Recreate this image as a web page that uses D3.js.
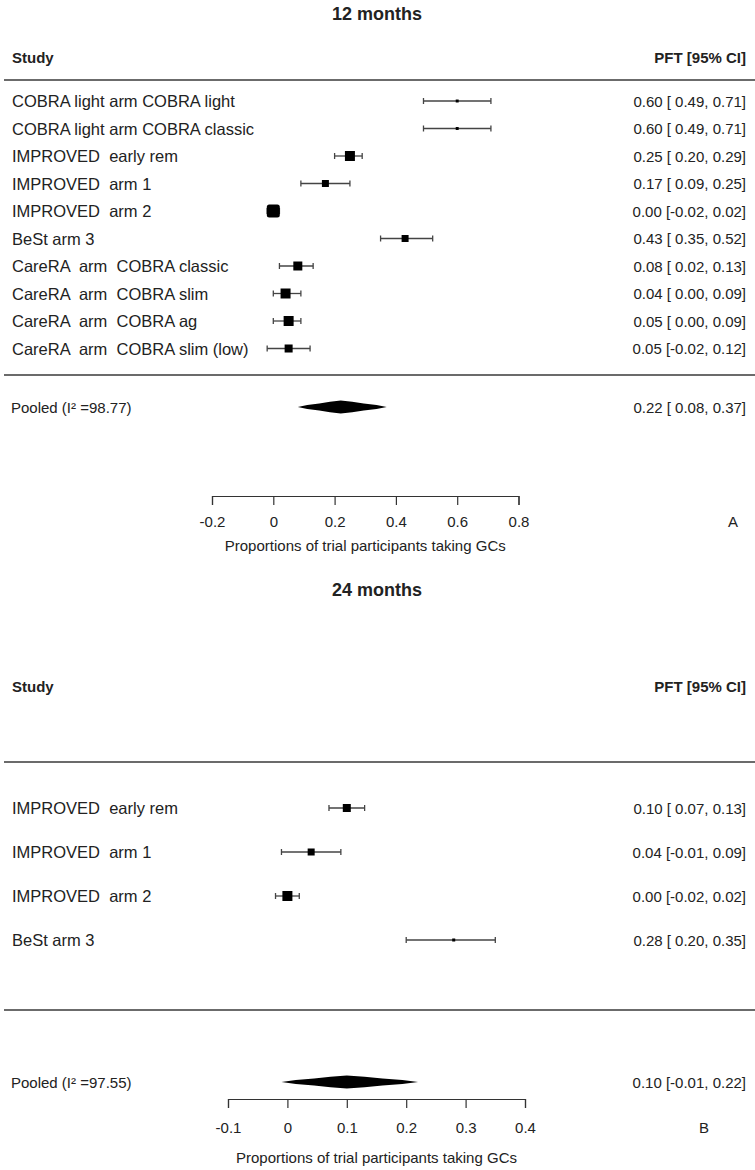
<!DOCTYPE html>
<html>
<head>
<meta charset="utf-8">
<script src="https://cdn.jsdelivr.net/npm/d3@7"></script>
<style>
body { margin: 0; background: #fff; }
svg text { font-family: "Liberation Sans", Arial, sans-serif; fill: #222; }
</style>
</head>
<body>
<div id="chart"></div>
<script>
var width = 755, height = 1170;

// 12 months
var studiesA = ["COBRA light arm COBRA light", "COBRA light arm COBRA classic", "IMPROVED  early rem",
    "IMPROVED  arm 1", "IMPROVED  arm 2", "BeSt arm 3", "CareRA  arm  COBRA classic",
    "CareRA  arm  COBRA slim", "CareRA  arm  COBRA ag", "CareRA  arm  COBRA slim (low)"];
var estA = [0.60, 0.60, 0.25, 0.17, 0.00, 0.43, 0.08, 0.04, 0.05, 0.05];
var lowA = [0.49, 0.49, 0.20, 0.09, -0.02, 0.35, 0.02, 0.00, 0.00, -0.02];
var highA = [0.71, 0.71, 0.29, 0.25, 0.02, 0.52, 0.13, 0.09, 0.09, 0.12];
var weightA = [1.2, 1.2, 13.7, 6.7, 23.2, 6.7, 11.1, 13.7, 13.7, 8.8];
var pooledA = [0.22, 0.08, 0.37];
var i2A = "98.77";
var ticksA = [-0.2, 0, 0.2, 0.4, 0.6, 0.8];

// 24 months
var studiesB = ["IMPROVED  early rem", "IMPROVED  arm 1", "IMPROVED  arm 2", "BeSt arm 3"];
var estB = [0.10, 0.04, 0.00, 0.28];
var lowB = [0.07, -0.01, -0.02, 0.20];
var highB = [0.13, 0.09, 0.02, 0.35];
var weightB = [28.8, 22.1, 45.0, 4.1];
var pooledB = [0.10, -0.01, 0.22];
var i2B = "97.55";
var ticksB = [-0.1, 0, 0.1, 0.2, 0.3, 0.4];

var xLabel = "Proportions of trial participants taking GCs";

var svg = d3.select("#chart").append("svg")
    .attr("width", width)
    .attr("height", height);

// plain hyphen for negatives, like the R output
function f2(v) { return d3.format(".2f")(v).replace("\u2212", "-"); }
function ciText(e, l, h) {
    return f2(e) + " [" + (l < 0 ? "" : " ") + f2(l) + ", " + f2(h) + "]";
}

function drawPanel(p) {
    var g = svg.append("g");
    var x = d3.scaleLinear().domain([p.ticks[0], p.ticks[p.ticks.length - 1]]).range(p.xRange);
    var box = d3.scaleSqrt().domain([0, d3.max(p.weight)]).range([0, p.maxBox]);
    var y = function(i) { return p.row0 + i * p.step; };

    g.append("text")
        .attr("x", 377).attr("y", p.titleY)
        .attr("text-anchor", "middle").attr("dominant-baseline", "central")
        .style("font-size", "18px").style("font-weight", "bold")
        .text(p.title);

    g.append("text")
        .attr("x", 12).attr("y", p.headerY)
        .attr("dominant-baseline", "central")
        .style("font-size", "15px").style("font-weight", "bold")
        .text("Study");
    g.append("text")
        .attr("x", 746).attr("y", p.headerY)
        .attr("text-anchor", "end").attr("dominant-baseline", "central")
        .style("font-size", "15px").style("font-weight", "bold")
        .text("PFT [95% CI]");

    [p.line1, p.line2].forEach(function(ly) {
        g.append("line")
            .attr("x1", 4).attr("x2", width)
            .attr("y1", ly).attr("y2", ly)
            .attr("stroke", "#6b6b6b").attr("stroke-width", 2);
    });

    var rows = g.selectAll("g.row").data(p.studies).enter().append("g").attr("class", "row");

    rows.append("text")
        .attr("x", 12).attr("y", function(d, i) { return y(i); })
        .attr("dominant-baseline", "central")
        .style("font-size", "16.5px").style("white-space", "pre")
        .text(function(d) { return d; });

    rows.append("line")
        .attr("x1", function(d, i) { return x(p.low[i]); })
        .attr("x2", function(d, i) { return x(p.high[i]); })
        .attr("y1", function(d, i) { return y(i); })
        .attr("y2", function(d, i) { return y(i); })
        .attr("stroke", "#444").attr("stroke-width", 1.3);
    ["low", "high"].forEach(function(k) {
        rows.append("line")
            .attr("x1", function(d, i) { return x(p[k][i]); })
            .attr("x2", function(d, i) { return x(p[k][i]); })
            .attr("y1", function(d, i) { return y(i) - 3; })
            .attr("y2", function(d, i) { return y(i) + 3; })
            .attr("stroke", "#444").attr("stroke-width", 1.3);
    });

    rows.append("rect")
        .attr("x", function(d, i) { return x(p.est[i]) - box(p.weight[i]) / 2; })
        .attr("y", function(d, i) { return y(i) - box(p.weight[i]) / 2; })
        .attr("width", function(d, i) { return box(p.weight[i]); })
        .attr("height", function(d, i) { return box(p.weight[i]); })
        .attr("rx", function(d, i) { return box(p.weight[i]) > 11 ? 2.5 : 0; })
        .attr("fill", "#000");

    rows.append("text")
        .attr("x", 746).attr("y", function(d, i) { return y(i); })
        .attr("text-anchor", "end").attr("dominant-baseline", "central")
        .style("font-size", "15px").style("white-space", "pre")
        .text(function(d, i) { return ciText(p.est[i], p.low[i], p.high[i]); });

    // pooled estimate
    g.append("text")
        .attr("x", 11).attr("y", p.pooledY)
        .attr("dominant-baseline", "central")
        .style("font-size", "15px")
        .text("Pooled (I\u00b2 =" + p.i2 + ")");
    g.append("text")
        .attr("x", 746).attr("y", p.pooledY)
        .attr("text-anchor", "end").attr("dominant-baseline", "central")
        .style("font-size", "15px").style("white-space", "pre")
        .text(ciText(p.pooled[0], p.pooled[1], p.pooled[2]));

    // spindle-shaped summary diamond
    var xl = x(p.pooled[1]), xm = x(p.pooled[0]), xh = x(p.pooled[2]), py = p.pooledY;
    var prof = [[1, 0], [0.78, 2], [0.5, 3.6], [0.25, 5.2], [0, 6.5]];
    var top = prof.map(function(q) { return [xm - q[0] * (xm - xl), py - q[1]]; })
        .concat(prof.slice(0, 4).reverse().map(function(q) { return [xm + q[0] * (xh - xm), py - q[1]]; }));
    var bottom = prof.slice(1).map(function(q) { return [xm + q[0] * (xh - xm), py + q[1]]; })
        .concat(prof.slice(1, 4).reverse().map(function(q) { return [xm - q[0] * (xm - xl), py + q[1]]; }));
    g.append("path")
        .attr("d", d3.line().curve(d3.curveLinearClosed)(top.concat(bottom)))
        .attr("fill", "#000");

    // axis
    var ax = g.append("g")
        .attr("transform", "translate(0," + p.axisY + ")")
        .call(d3.axisBottom(x).tickValues(p.ticks).tickSize(9).tickSizeOuter(9).tickPadding(p.tickPad)
            .tickFormat(function(d) { return String(d); }));
    ax.attr("font-family", null);
    ax.selectAll("path, line").attr("stroke", "#333").attr("stroke-width", 1.2);
    ax.selectAll("text").style("font-size", "15px").attr("fill", "#222");

    g.append("text")
        .attr("x", (p.xRange[0] + p.xRange[1]) / 2).attr("y", p.axisY + p.xlabOff)
        .attr("text-anchor", "middle").attr("dominant-baseline", "central")
        .style("font-size", "15px")
        .text(xLabel);

    g.append("text")
        .attr("x", p.letterX).attr("y", p.axisY + p.tickPad + 14)
        .attr("text-anchor", "middle").attr("dominant-baseline", "central")
        .style("font-size", "15px")
        .text(p.letter);
}

drawPanel({
    title: "12 months", titleY: 14, headerY: 57, line1: 80, line2: 375,
    row0: 101, step: 27.5, pooledY: 407, axisY: 496, tickPad: 11, xlabOff: 49,
    xRange: [212, 518.5], maxBox: 13, letter: "A", letterX: 733,
    studies: studiesA, est: estA, low: lowA, high: highA, weight: weightA,
    pooled: pooledA, i2: i2A, ticks: ticksA
});

drawPanel({
    title: "24 months", titleY: 590, headerY: 686, line1: 762, line2: 1010,
    row0: 808, step: 44, pooledY: 1082, axisY: 1099, tickPad: 14, xlabOff: 58,
    xRange: [228, 525], maxBox: 10, letter: "B", letterX: 704,
    studies: studiesB, est: estB, low: lowB, high: highB, weight: weightB,
    pooled: pooledB, i2: i2B, ticks: ticksB
});
</script>
</body>
</html>
